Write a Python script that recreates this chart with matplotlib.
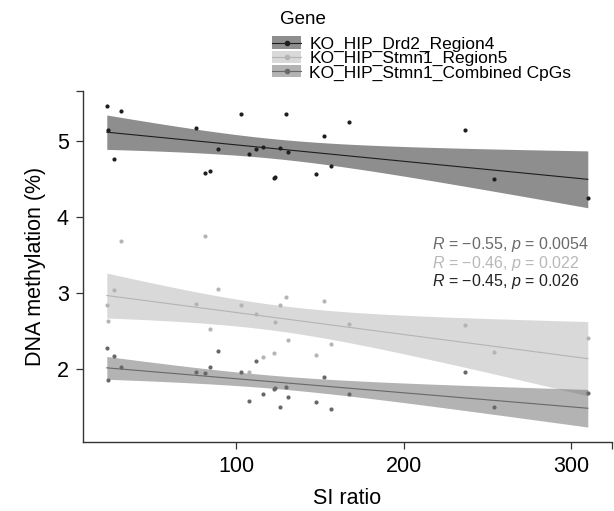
import numpy as np
import matplotlib
matplotlib.use("Agg")
import matplotlib.pyplot as plt
from matplotlib.patches import Patch
from matplotlib.lines import Line2D

plt.rcParams['font.family'] = ['Liberation Sans', 'DejaVu Sans']
plt.rcParams['mathtext.fontset'] = 'custom'
plt.rcParams['mathtext.rm'] = 'Liberation Sans'
plt.rcParams['mathtext.it'] = 'Liberation Sans:italic'

# SI ratio (same animals for every gene region)
si_ratio = [22.6, 23.6, 27.0, 31.1, 76.2, 81.5, 84.3, 89.1, 102.6, 107.9, 111.5, 116.1,
            122.4, 123.0, 126.4, 130.0, 130.8, 147.6, 152.6, 156.5, 167.1, 236.9, 253.8, 310.1]

drd2_region4 = [5.46, 5.14, 4.76, 5.39, 5.17, 4.58, 4.61, 4.90, 5.36, 4.83, 4.90, 4.92,
                4.51, 4.52, 4.91, 5.36, 4.85, 4.57, 5.07, 4.67, 5.25, 5.14, 4.50, 4.25]
stmn1_region5 = [2.85, 2.64, 3.04, 3.69, 2.86, 3.75, 2.53, 3.06, 2.84, 1.97, 2.73, 2.16,
                 2.22, 2.62, 2.85, 2.95, 2.39, 2.19, 2.90, 2.33, 2.60, 2.58, 2.23, 2.41]
stmn1_combined = [2.28, 1.86, 2.17, 2.03, 1.96, 1.95, 2.03, 2.24, 1.96, 1.59, 2.11, 1.68,
                  1.74, 1.76, 1.51, 1.77, 1.64, 1.57, 1.90, 1.48, 1.68, 1.96, 1.51, 1.69]

genes = ['KO_HIP_Drd2_Region4', 'KO_HIP_Stmn1_Region5', 'KO_HIP_Stmn1_Combined CpGs']
colors = ['#1e1e1e', '#b4b4b4', '#686868']
cor_labels = ['$R$ = \u22120.55, $p$ = 0.0054',
              '$R$ = \u22120.46, $p$ = 0.022',
              '$R$ = \u22120.45, $p$ = 0.026']
cor_colors = ['#6a6a6a', '#b8b8b8', '#222222']

fig = plt.figure(figsize=(6.14, 5.11), dpi=100)
ax = fig.add_axes([82.7 / 614, 1 - 441.7 / 511, (611.7 - 82.7) / 614, (441.7 - 90.7) / 511])

x = np.array(si_ratio)
t975 = 2.074  # t quantile, df = 22
for vals, col in zip([drd2_region4, stmn1_region5, stmn1_combined], colors):
    y = np.array(vals)
    b, a = np.polyfit(x, y, 1)
    xs = np.linspace(x.min(), x.max(), 80)
    fit = a + b * xs
    resid = y - (a + b * x)
    s = np.sqrt(np.sum(resid ** 2) / (len(x) - 2))
    se = s * np.sqrt(1 / len(x) + (xs - x.mean()) ** 2 / np.sum((x - x.mean()) ** 2))
    ax.fill_between(xs, fit - t975 * se, fit + t975 * se, color=col, alpha=0.5, lw=0)
    ax.plot(xs, fit, color=col, lw=0.8)
    ax.scatter(x, y, s=9, color=col, lw=0, zorder=3)

for i, (lab, c) in enumerate(zip(cor_labels, cor_colors)):
    ax.text(217, 3.634 - i * 0.237, lab, color=c, fontsize=11.5, va='center', ha='left')

ax.set_xlim(8.2, 324.4)
ax.set_ylim(1.05, 5.66)
ax.set_xticks([100, 200, 300])
ax.set_yticks([2, 3, 4, 5])
ax.set_xticks([324.4], minor=True)
ax.set_yticks([5.66], minor=True)
ax.tick_params(which='both', length=5, width=0.9, color='#333333', labelsize=15.5, pad=5)
for side in ['top', 'right']:
    ax.spines[side].set_visible(False)
for side in ['left', 'bottom']:
    ax.spines[side].set_linewidth(1.0)
    ax.spines[side].set_color('#333333')
ax.set_xlabel('SI ratio', fontsize=15.5, labelpad=8)
ax.set_ylabel('DNA methylation (%)', fontsize=15.5, labelpad=8)

# legend: title placed on its own, entries below
fig.text(280 / 614, 1 - 20 / 511, 'Gene', fontsize=13.5, ha='left', va='center')
handles = [(Patch(facecolor=c, alpha=0.5, lw=0),
            Line2D([], [], color=c, lw=0.8, marker='o', ms=3)) for c in colors]
leg = fig.legend(handles, genes, loc='upper left',
                 bbox_to_anchor=(268.5 / 614, 1 - 33 / 511), frameon=False,
                 fontsize=12.5, handlelength=1.7, handleheight=0.7, borderaxespad=0,
                 labelspacing=-0.05, handletextpad=0.45, borderpad=0.2)

fig.savefig('out.png', dpi=100)
